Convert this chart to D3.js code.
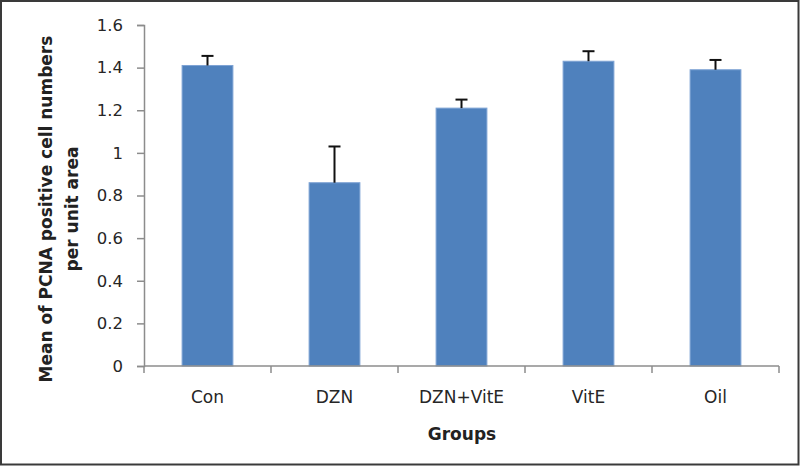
<!DOCTYPE html>
<html><head><meta charset="utf-8">
<script src="https://cdn.jsdelivr.net/npm/d3@7/dist/d3.min.js"></script>
<style>body{margin:0;background:#fff}svg{display:block}</style>
</head><body>
<svg id="c" width="800" height="466"></svg>
<script>
const categories = ["Con", "DZN", "DZN+VitE", "VitE", "Oil"];
const means = [1.41, 0.86, 1.21, 1.43, 1.39];
const errors = [0.045, 0.17, 0.04, 0.047, 0.046];
const yTicks = [0, 0.2, 0.4, 0.6, 0.8, 1, 1.2, 1.4, 1.6];

(function () {
const svg = d3.select("#c");
const W = 800, H = 466;
const mLeft = 144, mRight = 779, mTop = 25, mBottom = 366;

svg.append("rect").attr("x", 1).attr("y", 1).attr("width", W - 2.5).attr("height", H - 2.5)
  .attr("fill", "none").attr("stroke", "#3a3a3a").attr("stroke-width", 2);

const x = d3.scaleBand().domain(categories).range([mLeft, mRight]).padding(0);
const y = d3.scaleLinear().domain([0, 1.6]).range([mBottom, mTop]);
const barW = x.bandwidth() * 0.4;
const font = "'DejaVu Sans', Verdana, sans-serif";

// y axis
const yAxis = svg.append("g").attr("transform", `translate(${mLeft},0)`)
  .call(d3.axisLeft(y).tickValues(yTicks).tickSize(7).tickPadding(14)
    .tickFormat(d => String(+d.toFixed(1))));
yAxis.select(".domain").attr("stroke", "#8c8c8c").attr("stroke-width", 1.5);
yAxis.selectAll(".tick line").attr("stroke", "#8c8c8c").attr("stroke-width", 1.5);
yAxis.selectAll("text").attr("font-family", font).attr("font-size", 16.5).attr("fill", "#262626");

// bars
svg.selectAll("rect.bar").data(categories).join("rect").attr("class", "bar")
  .attr("x", d => x(d) + (x.bandwidth() - barW) / 2)
  .attr("y", (d, i) => y(means[i]))
  .attr("width", barW)
  .attr("height", (d, i) => y(0) - y(means[i]))
  .attr("fill", "#4F81BD").attr("stroke", "#7ea3d4").attr("stroke-width", 1);

// error bars
const eg = svg.append("g").attr("stroke", "#111").attr("stroke-width", 2);
categories.forEach((c, i) => {
  const cx = x(c) + x.bandwidth() / 2;
  eg.append("line").attr("x1", cx).attr("x2", cx).attr("y1", y(means[i])).attr("y2", y(means[i] + errors[i]));
  eg.append("line").attr("x1", cx - 6).attr("x2", cx + 6).attr("y1", y(means[i] + errors[i])).attr("y2", y(means[i] + errors[i]));
});

// x axis
const xAxis = svg.append("g").attr("transform", `translate(0,${mBottom})`)
  .call(d3.axisBottom(x).tickSize(0).tickPadding(25));
xAxis.select(".domain").remove();
svg.append("line").attr("x1", mLeft).attr("x2", mRight).attr("y1", mBottom).attr("y2", mBottom)
  .attr("stroke", "#8c8c8c").attr("stroke-width", 1.5);
const bounds = categories.map(c => x(c)).concat([mRight]);
svg.append("g").selectAll("line").data(bounds).join("line")
  .attr("x1", d => d).attr("x2", d => d).attr("y1", mBottom).attr("y2", mBottom + 7)
  .attr("stroke", "#8c8c8c").attr("stroke-width", 1.5);
xAxis.selectAll("text").attr("font-family", font).attr("font-size", 17).attr("fill", "#262626");

// axis titles
svg.append("text").attr("x", 462).attr("y", 440).attr("text-anchor", "middle")
  .attr("font-family", font).attr("font-weight", "bold").attr("font-size", 17).attr("fill", "#222")
  .text("Groups");
const yt = svg.append("text").attr("transform", "translate(52,209) rotate(-90)")
  .attr("text-anchor", "middle").attr("font-family", font).attr("font-weight", "bold")
  .attr("font-size", 17).attr("fill", "#222");
yt.append("tspan").attr("x", 0).attr("dy", 0).text("Mean of PCNA positive cell numbers");
yt.append("tspan").attr("x", 0).attr("dy", 26).text("per unit area");
})();
</script>
</body></html>
